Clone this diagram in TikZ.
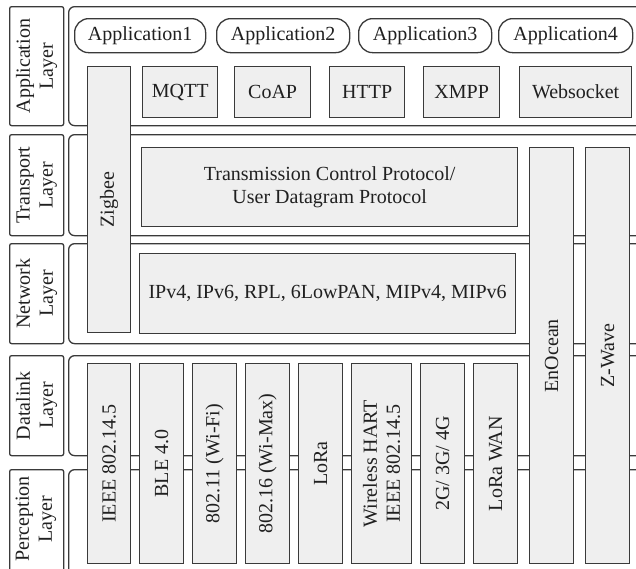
\documentclass[tikz,border=0pt]{standalone}
\usepackage{fontspec}
\setmainfont{Liberation Serif}
\definecolor{linecol}{HTML}{3A3A3A}
\definecolor{boxfill}{HTML}{EFEFEF}
\definecolor{txtcol}{HTML}{202020}
\begin{document}
\begin{tikzpicture}[x=1pt,y=-1pt,
  base/.style={draw=linecol, line width=1.3pt, inner sep=0pt, anchor=north west, text=txtcol,
    font=\fontsize{20}{23}\selectfont},
  panel/.style={base, fill=white, rounded corners=6pt},
  lbl/.style={base, fill=white, rounded corners=2pt},
  pill/.style={base, fill=white, rounded corners=14pt},
  pbox/.style={base, fill=boxfill},
  vtxt/.style={rotate=90, align=center, inner sep=0pt, text=txtcol, font=\fontsize{20}{23}\selectfont},
  htxt/.style={align=center, inner sep=0pt, text=txtcol, font=\fontsize{20}{23}\selectfont}]
\useasboundingbox (0,0) rectangle (636,568);
\clip (0,0) rectangle (636,568);
% layer labels
\node[lbl, minimum width=54, minimum height=119] (lapp) at (9,6) {};
\node[lbl, minimum width=54, minimum height=101] (ltra) at (9,134) {};
\node[lbl, minimum width=54, minimum height=100] (lnet) at (9,243) {};
\node[lbl, minimum width=54, minimum height=100] (ldl) at (9,355) {};
\node[lbl, minimum width=54, minimum height=140] (lper) at (9,469) {};
\node[vtxt] (tlapp) at (lapp.center) {Application\\Layer};
\node[vtxt] (tltra) at (ltra.center) {Transport\\Layer};
\node[vtxt] (tlnet) at (lnet.center) {Network\\Layer};
\node[vtxt] (tldl) at (ldl.center) {Datalink\\Layer};
\node[vtxt] (tlper) at (9+27,469+50) {Perception\\Layer};
% panels
\node[panel, minimum width=600, minimum height=119] (papp) at (68,6) {};
\node[panel, minimum width=600, minimum height=101] (ptra) at (68,134) {};
\node[panel, minimum width=600, minimum height=100] (pnet) at (68,243) {};
\node[panel, minimum width=600, minimum height=100] (pdl) at (68,355) {};
\node[panel, minimum width=600, minimum height=140] (pper) at (68,469) {};
% applications
\node[pill, minimum width=131, minimum height=34] (a1) at (74,18) {};
\node[pill, minimum width=133, minimum height=34] (a2) at (216,18) {};
\node[pill, minimum width=133, minimum height=34] (a3) at (358,18) {};
\node[pill, minimum width=134, minimum height=34] (a4) at (498,18) {};
\node[htxt] (ta1) at (a1.center) {Application1};
\node[htxt] (ta2) at (a2.center) {Application2};
\node[htxt] (ta3) at (a3.center) {Application3};
\node[htxt] (ta4) at (a4.center) {Application4};
% protocols
\node[pbox, minimum width=75, minimum height=51] (mqtt) at (142,66) {};
\node[pbox, minimum width=76, minimum height=51] (coap) at (234,66) {};
\node[pbox, minimum width=75, minimum height=51] (http) at (329,66) {};
\node[pbox, minimum width=76, minimum height=51] (xmpp) at (423,66) {};
\node[pbox, minimum width=112, minimum height=51] (ws) at (519,66) {};
\node[htxt] (tmqtt) at (mqtt.center) {MQTT};
\node[htxt] (tcoap) at (coap.center) {CoAP};
\node[htxt] (thttp) at (http.center) {HTTP};
\node[htxt] (txmpp) at (xmpp.center) {XMPP};
\node[htxt] (tws) at (ws.center) {Websocket};
% zigbee
\node[pbox, minimum width=43, minimum height=266] (zig) at (87,66) {};
\node[vtxt] (tzig) at (zig.center) {Zigbee};
% transport & network
\node[pbox, minimum width=376, minimum height=79] (tcp) at (141,147) {};
\node[htxt] (ttcp) at (tcp.center) {Transmission Control Protocol/\\User Datagram Protocol};
\node[pbox, minimum width=376, minimum height=80] (ip) at (139,253) {};
\node[htxt] (tip) at (ip.center) {IPv4, IPv6, RPL, 6LowPAN, MIPv4, MIPv6};
% enocean, zwave
\node[pbox, minimum width=44, minimum height=416] (eno) at (529,147) {};
\node[vtxt] (teno) at (eno.center) {EnOcean};
\node[pbox, minimum width=44, minimum height=416] (zw) at (585,147) {};
\node[vtxt] (tzw) at (zw.center) {Z-Wave};
% datalink / perception
\node[pbox, minimum width=43, minimum height=200] (ieee) at (87,363) {};
\node[pbox, minimum width=44, minimum height=200] (ble) at (139,363) {};
\node[pbox, minimum width=44, minimum height=200] (wifi) at (192,363) {};
\node[pbox, minimum width=44, minimum height=200] (wimax) at (245,363) {};
\node[pbox, minimum width=44, minimum height=200] (lora) at (298,363) {};
\node[pbox, minimum width=60, minimum height=200] (hart) at (351,363) {};
\node[pbox, minimum width=44, minimum height=200] (cell) at (420,363) {};
\node[pbox, minimum width=44, minimum height=200] (lwan) at (473,363) {};
\node[vtxt] (tieee) at (ieee.center) {IEEE 802.14.5};
\node[vtxt] (tble) at (ble.center) {BLE 4.0};
\node[vtxt] (twifi) at (wifi.center) {802.11 (Wi-Fi)};
\node[vtxt] (twimax) at (wimax.center) {802.16 (Wi-Max)};
\node[vtxt] (tlora) at (lora.center) {LoRa};
\node[vtxt] (thart) at (hart.center) {Wireless HART\\IEEE 802.14.5};
\node[vtxt] (tcell) at (cell.center) {2G/ 3G/ 4G};
\node[vtxt] (tlwan) at (lwan.center) {LoRa WAN};
\end{tikzpicture}
\end{document}
